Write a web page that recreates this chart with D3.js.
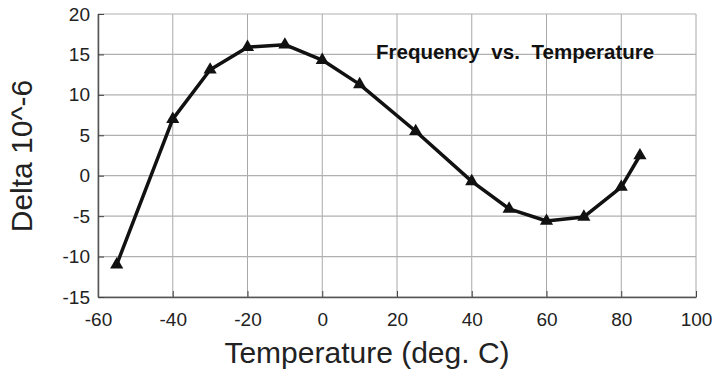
<!DOCTYPE html>
<html>
<head>
<meta charset="utf-8">
<script src="https://cdn.jsdelivr.net/npm/d3@7"></script>
<style>
  body { margin: 0; background: #fff; }
  text { font-family: "Liberation Sans", Arial, sans-serif; }
</style>
</head>
<body>
<div class="container"></div>
<script>
// data
const temps = [-55, -40, -30, -20, -10, 0, 10, 25, 40, 50, 60, 70, 80, 85];
const delta = [-11.0, 7.0, 13.1, 15.9, 16.2, 14.3, 11.3, 5.5, -0.7, -4.1, -5.6, -5.1, -1.4, 2.5];
const xTicks = [-60, -40, -20, 0, 20, 40, 60, 80, 100];
const yTicks = [-15, -10, -5, 0, 5, 10, 15, 20];

const width = 714;
const height = 376;

const svg = d3.select('.container').append('svg')
    .attr('width', width)
    .attr('height', height);

const x = d3.scaleLinear().domain([-60, 100]).range([98, 696]);
const y = d3.scaleLinear().domain([-15, 20]).range([297, 14]);

// grid
svg.append('g')
    .selectAll('line')
    .data(xTicks)
    .join('line')
    .attr('x1', d => x(d)).attr('x2', d => x(d))
    .attr('y1', y(-15)).attr('y2', y(20))
    .attr('stroke', '#a8a8a8')
    .attr('stroke-width', 1);

svg.append('g')
    .selectAll('line')
    .data(yTicks)
    .join('line')
    .attr('x1', x(-60)).attr('x2', x(100))
    .attr('y1', d => y(d)).attr('y2', d => y(d))
    .attr('stroke', '#b0b0b0')
    .attr('stroke-width', 1.2);

// axes (ticks point inward), plain hyphen for negatives
const fmt = d => String(d);

const xAxis = svg.append('g')
    .attr('transform', `translate(0,${y(-15)})`)
    .call(d3.axisBottom(x).tickValues(xTicks).tickFormat(fmt).tickSizeInner(-6).tickSizeOuter(0).tickPadding(12));

const yAxis = svg.append('g')
    .attr('transform', `translate(${x(-60)},0)`)
    .call(d3.axisLeft(y).tickValues(yTicks).tickFormat(fmt).tickSizeInner(-6).tickSizeOuter(0).tickPadding(8));

[xAxis, yAxis].forEach(g => {
    g.select('.domain').attr('stroke', '#555').attr('stroke-width', 1.5);
    g.selectAll('.tick line').attr('stroke', '#444');
    g.selectAll('.tick text')
        .attr('fill', '#222')
        .style('font-size', '19px')
        .style('font-family', '"Liberation Sans", Arial, sans-serif');
});
xAxis.selectAll('.tick text').attr('dy', '0.9em');

// line + markers
const line = d3.line()
    .x((d, i) => x(temps[i]))
    .y(d => y(d));

svg.append('path')
    .datum(delta)
    .attr('d', line)
    .attr('fill', 'none')
    .attr('stroke', '#111')
    .attr('stroke-width', 3.5)
    .attr('stroke-linejoin', 'round');

svg.append('g')
    .selectAll('path')
    .data(delta)
    .join('path')
    .attr('d', d3.symbol(d3.symbolTriangle, 75))
    .attr('transform', (d, i) => `translate(${x(temps[i])},${y(d)})`)
    .attr('fill', '#111');

// title
svg.append('text')
    .attr('x', 376)
    .attr('y', 59)
    .style('font-size', '20.5px')
    .style('font-weight', 'bold')
    .style('word-spacing', '6px')
    .attr('fill', '#111')
    .text('Frequency vs. Temperature');

// axis labels
svg.append('text')
    .attr('x', 367)
    .attr('y', 363)
    .attr('text-anchor', 'middle')
    .style('font-size', '30px')
    .attr('fill', '#222')
    .text('Temperature (deg. C)');

svg.append('text')
    .attr('transform', 'translate(32,156) rotate(-90)')
    .attr('text-anchor', 'middle')
    .style('font-size', '30px')
    .attr('fill', '#222')
    .text('Delta 10^-6');
</script>
</body>
</html>
